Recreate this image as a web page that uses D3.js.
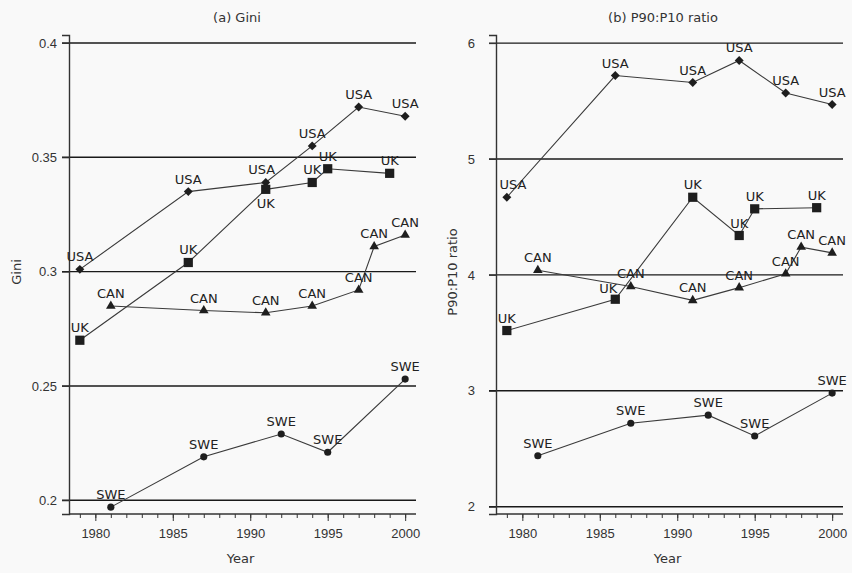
<!DOCTYPE html>
<html>
<head>
<meta charset="utf-8">
<script src="https://cdn.jsdelivr.net/npm/d3@7"></script>
<style>
  body { margin: 0; background: #f9f9f9; }
  svg { display: block; font-family: "DejaVu Sans", sans-serif; }
  .tick text { font-size: 13px; fill: #333; }
</style>
</head>
<body>
<div id="chart"></div>
<script>
// data
const giniUSA = [[1979, 0.301], [1986, 0.335], [1991, 0.339], [1994, 0.355], [1997, 0.372], [2000, 0.368]];
const giniUK  = [[1979, 0.270], [1986, 0.304], [1991, 0.336], [1994, 0.339], [1995, 0.345], [1999, 0.343]];
const giniCAN = [[1981, 0.285], [1987, 0.283], [1991, 0.282], [1994, 0.285], [1997, 0.292], [1998, 0.311], [2000, 0.316]];
const giniSWE = [[1981, 0.197], [1987, 0.219], [1992, 0.229], [1995, 0.221], [2000, 0.253]];

const ratioUSA = [[1979, 4.67], [1986, 5.72], [1991, 5.66], [1994, 5.85], [1997, 5.57], [2000, 5.47]];
const ratioUK  = [[1979, 3.52], [1986, 3.79], [1991, 4.67], [1994, 4.34], [1995, 4.57], [1999, 4.58]];
const ratioCAN = [[1981, 4.04], [1987, 3.90], [1991, 3.78], [1994, 3.89], [1997, 4.01], [1998, 4.24], [2000, 4.19]];
const ratioSWE = [[1981, 2.44], [1987, 2.72], [1992, 2.79], [1995, 2.61], [2000, 2.98]];

const giniTicks = [0.2, 0.25, 0.3, 0.35, 0.4];
const ratioTicks = [2, 3, 4, 5, 6];
const yearTicks = [1980, 1985, 1990, 1995, 2000];

const W = 852, H = 573;
const svg = d3.select("#chart").append("svg").attr("width", W).attr("height", H);
svg.append("rect").attr("width", W).attr("height", H).attr("fill", "#f9f9f9");

// diamond = square turned 45 degrees
const markerType = {USA: d3.symbolSquare, UK: d3.symbolSquare, CAN: d3.symbolTriangle, SWE: d3.symbolCircle};
const markerSize = {USA: 40, UK: 85, CAN: 40, SWE: 40};
const markerTurn = {USA: 45, UK: 0, CAN: 0, SWE: 0};

function panel(opt) {
  const x = d3.scaleLinear().domain([1978.3, 2000.7]).range([opt.left, opt.right]);
  const y = d3.scaleLinear().domain(opt.yDomain).range([514, 35]);
  const g = svg.append("g");

  // gridlines
  g.selectAll(".grid").data(opt.ticks).join("line")
    .attr("x1", opt.left - 7).attr("x2", opt.right)
    .attr("y1", d => y(d)).attr("y2", d => y(d))
    .attr("stroke", "#1a1a1a").attr("stroke-width", 1.4);

  // y axis
  const ya = g.append("g").attr("transform", `translate(${opt.left},0)`)
    .call(d3.axisLeft(y).tickValues(opt.ticks).tickSize(7).tickPadding(opt.pad).tickFormat(opt.fmt));
  ya.select(".domain").attr("stroke", "#333").attr("stroke-width", 1.4);
  ya.selectAll(".tick line").attr("stroke", "#333");

  // x axis, minor ticks each year
  const xa = g.append("g").attr("transform", "translate(0,514)")
    .call(d3.axisBottom(x).tickValues(d3.range(1979, 2001)).tickSize(4).tickFormat(""));
  xa.select(".domain").attr("d", `M${opt.left},0H${opt.right}`).attr("stroke", "#333").attr("stroke-width", 1.4);
  xa.selectAll(".tick line").attr("stroke", "#333");
  const xb = g.append("g").attr("transform", "translate(0,514)")
    .call(d3.axisBottom(x).tickValues(yearTicks).tickSize(7).tickPadding(8).tickFormat(d3.format("d")));
  xb.select(".domain").remove();
  xb.selectAll(".tick line").attr("stroke", "#333");

  // titles
  g.append("text").attr("x", opt.titleX).attr("y", 22).attr("text-anchor", "middle")
    .style("font-size", "13px").attr("fill", "#333").text(opt.title);
  g.append("text").attr("x", (opt.left + opt.right) / 2 - 2).attr("y", 563).attr("text-anchor", "middle")
    .style("font-size", "13px").attr("fill", "#333").text("Year");
  g.append("text").attr("transform", `translate(${opt.yLabelX},272) rotate(-90)`).attr("text-anchor", "middle")
    .style("font-size", "13px").attr("fill", "#333").text(opt.yLabel);

  const line = d3.line().x(d => x(d[0])).y(d => y(d[1]));
  opt.series.forEach(s => {
    g.append("path").datum(s.values).attr("d", line)
      .attr("fill", "none").attr("stroke", "#3a3a3a").attr("stroke-width", 1.1);
    g.selectAll(null).data(s.values).join("path")
      .attr("transform", d => `translate(${x(d[0])},${y(d[1])}) rotate(${markerTurn[s.name]})`)
      .attr("d", d3.symbol().type(markerType[s.name]).size(markerSize[s.name]))
      .attr("fill", "#1e1e1e");
    g.selectAll(null).data(s.values).join("text")
      .attr("x", (d, i) => x(d[0]) + ((opt.shift[s.name + i] || [0, 0])[0]))
      .attr("y", (d, i) => y(d[1]) - 8 + ((opt.shift[s.name + i] || [0, 0])[1]))
      .attr("text-anchor", "middle")
      .style("font-size", "13px").attr("fill", "#222")
      .text(s.name);
  });
}

panel({
  left: 69, right: 416, yDomain: [0.194, 0.4035], ticks: giniTicks, pad: 5,
  fmt: d => String(d), title: "(a) Gini", titleX: 237, yLabel: "Gini", yLabelX: 21,
  series: [
    {name: "USA", values: giniUSA}, {name: "UK", values: giniUK},
    {name: "CAN", values: giniCAN}, {name: "SWE", values: giniSWE}
  ],
  shift: {UK2: [0, 27], USA2: [-4, 0]}
});

panel({
  left: 496, right: 843, yDomain: [1.937, 6.07], ticks: ratioTicks, pad: 14,
  fmt: d3.format("d"), title: "(b) P90:P10 ratio", titleX: 663, yLabel: "P90:P10 ratio", yLabelX: 457,
  series: [
    {name: "USA", values: ratioUSA}, {name: "UK", values: ratioUK},
    {name: "CAN", values: ratioCAN}, {name: "SWE", values: ratioSWE}
  ],
  shift: {USA0: [6, 0], UK1: [-7, 2]}
});
</script>
</body>
</html>
